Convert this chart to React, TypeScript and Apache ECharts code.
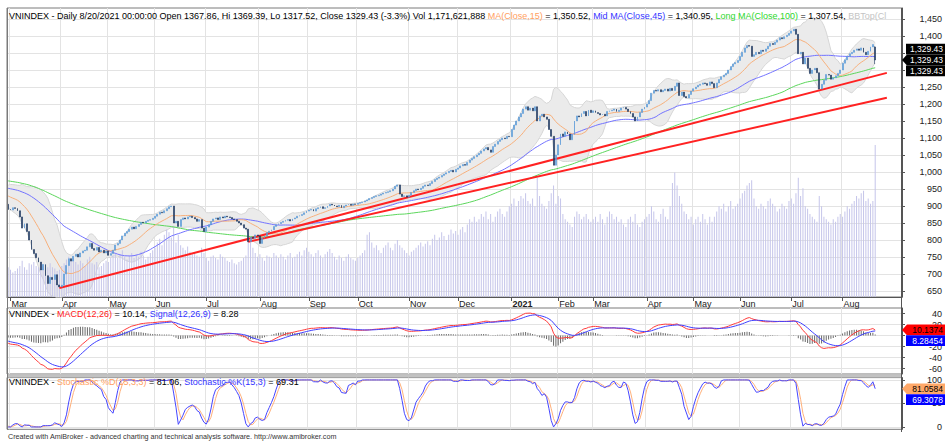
import React, { useEffect, useRef } from "react";
import * as echarts from "echarts";

const FONT = '"Liberation Sans", Arial, Helvetica, sans-serif';

// Closes before the visible window (Oct 2019 - 27 Feb 2020), estimated from where the
// moving averages start; they are not drawn, only used to warm up the indicators.
const warmupCloses = [
  1002, 1004, 1001, 999, 1000, 998, 995, 993, 990, 992, 995, 1000, 1003, 1005, 1008, 1010, 1012, 1015, 1013, 1010, 1008, 1006,
  1010, 1015, 1020, 1022, 1018, 1015, 1012, 1010, 1005, 1000, 1003, 1005, 1008, 1004, 998, 990, 985, 980, 975, 970, 968,
  965, 962, 960, 958, 955, 955, 957, 960, 962, 965, 963, 960, 958, 957, 955, 958, 960, 962, 965, 963, 961, 960,
  965, 968, 970, 972, 975, 978, 980, 982, 985, 988, 990, 992, 990, 985, 980, 915,
  920, 925, 930, 935, 938, 940, 938, 935, 937, 940, 942, 945, 943, 940, 935, 925, 918, 910, 905,
];

// Visible daily closes, 28 Feb 2020 - 31 Dec 2020
const closes2020 = [
  890,
  888, 895, 893, 886, 868, 835, 848, 825, 800, 772, 760, 748, 735, 712, 728, 695, 672, 690, 684, 698, 668, 662,
  667, 700, 725, 745, 738, 752, 758, 750, 762, 768, 770, 780, 790, 775, 770, 778, 765, 770, 762, 768,
  755, 760, 770, 785, 790, 800, 812, 820, 825, 832, 838, 833, 840, 846, 852, 850, 855, 858, 860, 864,
  870, 876, 882, 880, 886, 892, 898, 900, 850, 855, 840, 860, 865, 862, 868, 870, 866, 862, 855, 860, 835, 825,
  838, 845, 855, 862, 865, 860, 868, 865, 870, 868, 866, 862, 860, 855, 850, 845, 835, 832, 795, 808, 805, 815, 812,
  790, 805, 812, 822, 826, 830, 840, 845, 848, 852, 855, 858, 860, 856, 862, 865, 870, 872, 875, 880, 885,
  888, 890, 885, 892, 895, 898, 893, 895, 900, 905, 903, 900, 898, 902, 895, 900, 903, 905, 902, 906, 905,
  908, 910, 912, 915, 918, 922, 925, 928, 930, 932, 935, 938, 940, 942, 945, 950, 958, 962, 935, 928, 930, 926,
  932, 940, 945, 950, 948, 952, 958, 962, 960, 966, 972, 978, 982, 985, 990, 994, 998, 1002, 1005, 1000, 1008,
  1012, 1018, 1022, 1020, 1028, 1035, 1040, 1045, 1050, 1055, 1062, 1068, 1072, 1065, 1058, 1075, 1082, 1090, 1095, 1100, 1098, 1105, 1104,
];

// Visible daily closes, 4 Jan 2021 - 20 Aug 2021
const closes2021 = [
  1125, 1138, 1150, 1162, 1172, 1185, 1192, 1182, 1188, 1180, 1192, 1150, 1165, 1170, 1162, 1155, 1125, 1105, 1020, 1050,
  1080, 1112, 1105, 1118, 1112, 1095, 1110, 1150, 1165, 1162, 1172, 1178, 1165, 1182, 1175,
  1180, 1175, 1172, 1168, 1170, 1165, 1178, 1180, 1182, 1185, 1178, 1182, 1188, 1190, 1185, 1178, 1172, 1162, 1150, 1162, 1175, 1185, 1191,
  1200, 1210, 1232, 1240, 1238, 1242, 1236, 1240, 1244, 1238, 1246, 1240, 1252, 1262, 1225, 1235, 1222, 1218, 1228, 1238,
  1245, 1250, 1255, 1258, 1262, 1260, 1255, 1265, 1260, 1248, 1262, 1272, 1280, 1285, 1290, 1300, 1310, 1318, 1322, 1328,
  1340, 1352, 1365, 1372, 1370, 1340, 1345, 1352, 1348, 1358, 1355, 1362, 1370, 1378, 1375, 1382, 1388, 1395, 1392, 1398, 1402, 1408,
  1415, 1420, 1405, 1348, 1352, 1318, 1335, 1305, 1290, 1300, 1305, 1292, 1244, 1258, 1270, 1287, 1285, 1273, 1277, 1283, 1290, 1300,
  1320, 1330, 1340, 1348, 1352, 1358, 1362, 1358, 1365, 1352, 1345, 1355, 1368, 1375, 1329.43,
];

// Daily volume, millions of shares
const volume2020 = [
  230,
  210, 190, 200, 220, 240, 280, 230, 210, 260, 250, 270, 240, 230, 260, 250, 210, 230, 260, 230, 220, 200, 210,
  240, 260, 290, 310, 280, 300, 270, 250, 280, 260, 240, 290, 310, 260, 250, 270, 230, 240, 260, 280,
  270, 300, 320, 340, 300, 330, 360, 310, 290, 320, 340, 300, 330, 310, 350, 320, 290, 310, 340, 360,
  380, 420, 450, 400, 480, 520, 500, 460, 550, 420, 480, 400, 380, 360, 390, 350, 330, 340, 320, 310, 380, 340,
  300, 280, 310, 320, 300, 290, 330, 310, 300, 280, 270, 290, 260, 250, 270, 280, 300, 320, 480, 420, 380, 340, 310,
  330, 300, 280, 320, 310, 300, 340, 320, 300, 330, 310, 290, 320, 340, 300, 310, 330, 350, 320, 360, 380,
  350, 330, 310, 340, 360, 320, 300, 330, 350, 370, 340, 310, 290, 320, 300, 280, 310, 330, 300, 290, 280,
  300, 320, 340, 360, 480, 500, 420, 380, 400, 360, 340, 380, 400, 420, 380, 360, 410, 440, 400, 380, 360, 340,
  320, 350, 360, 380, 400, 420, 390, 410, 430, 400, 450, 480, 440, 460, 500, 470, 440, 480, 520, 490, 510,
  480, 520, 540, 500, 560, 600, 580, 620, 580, 600, 640, 620, 660, 600, 640, 580, 620, 660, 680, 640, 620, 660, 700,
];
const volume2021 = [
  720, 760, 700, 740, 780, 760, 800, 740, 720, 760, 700, 920, 780, 720, 700, 680, 740, 800, 860, 720,
  780, 760, 640, 600, 580, 560, 540, 620, 660, 640, 600, 620, 640, 600, 580,
  600, 620, 580, 640, 600, 560, 620, 660, 640, 600, 620, 580, 600, 560, 540, 600, 620, 580, 640, 560, 540, 580, 600,
  620, 640, 700, 660, 600, 580, 640, 680, 620, 600, 700, 880, 960, 860, 780, 720, 660, 640, 600, 620,
  560, 600, 620, 580, 640, 600, 560, 620, 580, 620, 660, 700, 680, 720, 660, 700, 740, 680, 700, 720,
  760, 800, 820, 860, 880, 900, 760, 700, 680, 720, 700, 680, 740, 760, 720, 700, 660, 680, 720, 700, 680, 740,
  760, 720, 800, 920, 780, 840, 700, 680, 640, 620, 600, 580, 780, 700, 620, 600, 580, 560, 600, 580, 620, 640,
  620, 660, 700, 680, 720, 740, 780, 760, 800, 820, 740, 760, 720, 740, 1172,
];

const lastBar = { open: 1367.86, high: 1369.39, low: 1317.52, close: 1329.43 };

const holidays = [
  "2020-04-02", "2020-04-30", "2020-05-01", "2020-09-02", "2021-01-01", "2021-02-10", "2021-02-11",
  "2021-02-12", "2021-02-15", "2021-02-16", "2021-04-21", "2021-04-30", "2021-05-03",
];
const firstDay = "2020-02-28";
const lastDay = "2021-08-20";
const blankSlots = 11;
const monthNames = ["Jan", "Feb", "Mar", "Apr", "May", "Jun", "Jul", "Aug", "Sep", "Oct", "Nov", "Dec"];

const priceTicks = [650, 700, 750, 800, 850, 900, 950, 1000, 1050, 1100, 1150, 1200, 1250, 1300, 1350, 1400, 1450];
const priceLabels = [650, 700, 750, 800, 850, 900, 950, 1000, 1050, 1100, 1150, 1200, 1250, 1400, 1450];
const macdTicks = [-60, -40, -20, 0, 20, 40];
const macdLabels = [-60, -40, -20, 20, 40];
const stochTicks = [0, 50, 100];
const stochLabels = [0, 50, 100];

const upperTrend: [string, number][] = [["2020-03-31", 659], ["2021-08-27", 1291.6]];
const lowerTrend: [string, number][] = [["2020-07-27", 795], ["2021-08-27", 1218.4]];

const priceTagValues = [1329.43, 1329.43, 1329.43];
const macdTagValues = [10.1374, 8.28454];
const stochTagValues = [81.0584, 69.3078];

const priceTitle =
  "{k|VNINDEX - Daily 8/20/2021 00:00:00 Open 1367.86, Hi 1369.39, Lo 1317.52, Close 1329.43 (-3.3%) Vol 1,171,621,888 }" +
  "{o|MA(Close,15)}{k| = 1,350.52, }{b|Mid MA(Close,45)}{k| = 1,340.95, }{g|Long MA(Close,100)}{k| = 1,307.54, }{s|BBTop(Cl}";
const macdTitle = "{k|VNINDEX - }{r|MACD(12,26)}{k| = 10.14, }{b|Signal(12,26,9)}{k| = 8.28}";
const stochTitle = "{k|VNINDEX - }{o|Stochastic %D(15,3,3)}{k| = 81.06, }{b|Stochastic %K(15,3)}{k| = 69.31}";
const footer = "Created with AmiBroker - advanced charting and technical analysis software. http://www.amibroker.com";

function iso(d: Date) {
  return d.toISOString().slice(0, 10);
}
function tradingDays(): string[] {
  const out: string[] = [];
  const d = new Date(firstDay + "T00:00:00Z");
  const end = new Date(lastDay + "T00:00:00Z");
  while (d <= end) {
    const wd = d.getUTCDay();
    const s = iso(d);
    if (wd !== 0 && wd !== 6 && !holidays.includes(s)) out.push(s);
    d.setUTCDate(d.getUTCDate() + 1);
  }
  return out;
}
function futureDays(n: number): string[] {
  const out: string[] = [];
  const d = new Date(lastDay + "T00:00:00Z");
  while (out.length < n) {
    d.setUTCDate(d.getUTCDate() + 1);
    const wd = d.getUTCDay();
    if (wd !== 0 && wd !== 6) out.push(iso(d));
  }
  return out;
}
function sma(a: (number | null)[], n: number): (number | null)[] {
  return a.map((_, i) => {
    if (i < n - 1) return null;
    let s = 0;
    for (let j = i - n + 1; j <= i; j++) {
      const v = a[j];
      if (v == null) return null;
      s += v;
    }
    return s / n;
  });
}
function stdev(a: number[], n: number): (number | null)[] {
  return a.map((_, i) => {
    if (i < n - 1) return null;
    let s = 0;
    for (let j = i - n + 1; j <= i; j++) s += a[j];
    const m = s / n;
    let q = 0;
    for (let j = i - n + 1; j <= i; j++) q += (a[j] - m) * (a[j] - m);
    return Math.sqrt(q / n);
  });
}
function ema(a: number[], n: number): number[] {
  const k = 2 / (n + 1);
  const out: number[] = [];
  a.forEach((v, i) => out.push(i === 0 ? v : k * v + (1 - k) * out[i - 1]));
  return out;
}

export default function App() {
  const ref = useRef<HTMLDivElement>(null);

  useEffect(() => {
    if (!ref.current) return;
    const chart = echarts.init(ref.current, undefined, { renderer: "svg" });

    const dates = tradingDays();
    const slots = dates.concat(futureDays(blankSlots));
    const closes = warmupCloses.concat(closes2020, closes2021);
    const P = warmupCloses.length;
    const N = closes2020.length + closes2021.length;
    const G = closes.length;

    const highs = closes.map((c, g) => (g === 0 ? c : Math.max(c, closes[g - 1])));
    const lows = closes.map((c, g) => (g === 0 ? c : Math.min(c, closes[g - 1])));
    highs[G - 1] = lastBar.high;
    lows[G - 1] = lastBar.low;

    const candles = [] as number[][];
    for (let i = 0; i < N; i++) {
      const g = P + i;
      const o = i === N - 1 ? lastBar.open : closes[g - 1];
      candles.push([o, closes[g], lows[g], highs[g]]);
    }
    const volumes = volume2020.concat(volume2021);

    const ma15 = sma(closes, 15);
    const ma45 = sma(closes, 45);
    const ma100 = sma(closes, 100);
    const sd15 = stdev(closes, 15);
    const bbLow = ma15.map((m, i) => (m == null ? null : m - 2 * (sd15[i] as number)));
    const bbWidth = sd15.map((s) => (s == null ? null : 4 * s));

    const e12 = ema(closes, 12);
    const e26 = ema(closes, 26);
    const macd = e12.map((v, i) => v - e26[i]);
    const signal = ema(macd, 9);
    const hist = macd.map((v, i) => v - signal[i]);

    const hh: number[] = [];
    const ll: number[] = [];
    for (let g = 0; g < G; g++) {
      let h = -Infinity;
      let l = Infinity;
      for (let j = Math.max(0, g - 14); j <= g; j++) {
        h = Math.max(h, highs[j]);
        l = Math.min(l, lows[j]);
      }
      hh.push(h);
      ll.push(l);
    }
    const num = sma(closes.map((c, g) => c - ll[g]), 3);
    const den = sma(closes.map((c, g) => hh[g] - ll[g]), 3);
    const stochK = num.map((v, i) => (v == null || !den[i] ? null : (100 * v) / (den[i] as number)));
    const stochD = sma(stochK, 3);

    const vis = (a: (number | null)[]) => a.slice(P);

    const isMonthStart = (index: number) =>
      index > 0 && index < N && slots[index].slice(0, 7) !== slots[index - 1].slice(0, 7);
    const monthLabel = (v: string) => {
      const m = parseInt(v.slice(5, 7), 10);
      return m === 1 ? "{y|" + v.slice(0, 4) + "}" : monthNames[m - 1];
    };

    const gridCommon = { left: 7, right: 43, show: true, borderColor: "#7a7a7a", borderWidth: 1 };
    const splitV = { show: true, interval: (i: number) => isMonthStart(i), lineStyle: { color: "#e3e3e3", width: 1 } };
    const catAxis = (gridIndex: number, labels: boolean) => ({
      type: "category",
      gridIndex,
      data: slots,
      boundaryGap: true,
      axisLine: { show: labels, lineStyle: { color: "#555" } },
      axisTick: {
        show: labels,
        interval: (i: number) => isMonthStart(i),
        alignWithLabel: true,
        length: 4,
        lineStyle: { color: "#555" },
      },
      axisLabel: {
        show: labels,
        interval: (i: number) => isMonthStart(i),
        formatter: monthLabel,
        align: "left",
        margin: 2,
        padding: [0, 0, 0, 1],
        fontSize: 9,
        fontFamily: FONT,
        color: "#222",
        rich: { y: { fontWeight: "bold", fontSize: 9, fontFamily: FONT, color: "#222" } },
      },
      splitLine: splitV,
    });
    const valAxis = (
      gridIndex: number,
      min: number,
      max: number,
      ticks: number[],
      labels: number[],
      fmt?: (v: number) => string
    ) => ({
      type: "value",
      gridIndex,
      position: "right",
      min,
      max,
      axisLine: { show: true, lineStyle: { color: "#555" } },
      axisTick: { show: true, length: 3, customValues: ticks, lineStyle: { color: "#555" } },
      axisLabel: {
        customValues: labels,
        formatter: fmt || ((v: number) => String(v)),
        align: "right",
        margin: 40,
        fontSize: 9,
        fontFamily: FONT,
        color: "#222",
      },
      splitLine: { show: true, lineStyle: { color: "#e3e3e3", width: 1 } },
    });

    const lineS = (name: string, data: (number | null)[], color: string, x: number, y: number, z = 3) => ({
      name,
      type: "line",
      xAxisIndex: x,
      yAxisIndex: y,
      data,
      symbol: "none",
      silent: true,
      z,
      lineStyle: { color, width: 1 },
    });

    const option: any = {
      animation: false,
      backgroundColor: "#ffffff",
      grid: [
        { ...gridCommon, top: 8, height: 289 },
        { ...gridCommon, top: 308, height: 66 },
        { ...gridCommon, top: 377.6, height: 51.7 },
      ],
      xAxis: [catAxis(0, true), catAxis(1, false), catAxis(2, false)],
      yAxis: [
        valAxis(0, 632.4, 1482.4, priceTicks, priceLabels, (v: number) => v.toLocaleString("en-US")),
        { type: "value", gridIndex: 0, min: 0, max: 2230, show: false, splitLine: { show: false } },
        valAxis(1, -70, 50, macdTicks, macdLabels),
        valAxis(2, -5, 105, stochTicks, stochLabels),
      ],
      series: [
        { ...lineS("bbLow", vis(bbLow), "#d6d6d6", 0, 0, 1), stack: "bb" },
        {
          ...lineS("bbTop", vis(bbWidth), "#d6d6d6", 0, 0, 1),
          stack: "bb",
          areaStyle: { color: "#ebebeb", opacity: 1 },
        },
        {
          name: "Volume",
          type: "bar",
          xAxisIndex: 0,
          yAxisIndex: 1,
          data: volumes,
          barWidth: 1,
          silent: true,
          z: 2,
          itemStyle: { color: "#c5c5ea" },
        },
        lineS("MA100", vis(ma100), "#5cd65c", 0, 0),
        lineS("MA45", vis(ma45), "#7373ff", 0, 0),
        lineS("MA15", vis(ma15), "#f7b07c", 0, 0),
        {
          name: "VNINDEX",
          type: "candlestick",
          xAxisIndex: 0,
          yAxisIndex: 0,
          data: candles,
          barWidth: 1.4,
          z: 5,
          itemStyle: {
            color: "#5b9bd8",
            color0: "#1d3760",
            borderColor: "#5b9bd8",
            borderColor0: "#1d3760",
            borderWidth: 0.6,
          },
          markLine: {
            silent: true,
            symbol: ["none", "none"],
            label: { show: false },
            lineStyle: { color: "#ff2222", width: 2, type: "solid" },
            data: [upperTrend, lowerTrend].map((t) => [{ coord: t[0] }, { coord: t[1] }]),
          },
        },
        {
          name: "Hist",
          type: "bar",
          xAxisIndex: 1,
          yAxisIndex: 2,
          data: vis(hist),
          barWidth: 1,
          silent: true,
          itemStyle: { color: "#6a6a6a" },
        },
        lineS("MACD", vis(macd), "#ff3c3c", 1, 2),
        lineS("Signal", vis(signal), "#4040ff", 1, 2),
        lineS("%D", vis(stochD), "#ffb07a", 2, 3),
        lineS("%K", vis(stochK), "#4646ff", 2, 3),
      ],
    };
    chart.setOption(option);

    const rich = (size: number) => {
      const f = (fill: string) => ({ fill, fontSize: size, fontFamily: FONT });
      return {
        k: f("#000000"),
        o: f("#ffa060"),
        b: f("#3434ff"),
        g: f("#2ed82e"),
        s: f("#c4c4c4"),
        r: f("#ff1a1a"),
      };
    };
    const textEl = (x: number, y: number, text: string, size = 9) => ({
      type: "text",
      x,
      y,
      z: 100,
      silent: true,
      style: { text, rich: rich(size), fontSize: size, fontFamily: FONT, fill: "#000", verticalAlign: "middle" },
    });
    const axisX = 902;
    const TAG_H = 10.8;
    const tag = (yc: number, text: string, bg: string, fg: string, arrow: boolean) => {
      const h = TAG_H;
      const x1 = 945;
      const pts = arrow
        ? [[axisX, yc], [axisX + 5, yc - h / 2], [x1, yc - h / 2], [x1, yc + h / 2], [axisX + 5, yc + h / 2]]
        : [[axisX + 4, yc - h / 2], [x1, yc - h / 2], [x1, yc + h / 2], [axisX + 4, yc + h / 2]];
      return [
        { type: "polygon", z: 110, silent: true, shape: { points: pts }, style: { fill: bg } },
        {
          type: "text",
          z: 111,
          silent: true,
          x: 943,
          y: yc,
          style: { text, fill: fg, fontSize: 8.5, fontFamily: FONT, align: "right", verticalAlign: "middle" },
        },
      ];
    };
    const py = (v: number, axis: number) => chart.convertToPixel({ yAxisIndex: axis } as any, v) as number;

    const pMid = py(priceTagValues[1], 0);
    const mTop = py(macdTagValues[0], 2);
    const sTop = py(stochTagValues[0], 3);
    const fmtP = (v: number) => v.toLocaleString("en-US", { minimumFractionDigits: 2, maximumFractionDigits: 2 });

    const graphic: any[] = [
      { type: "rect", z: 90, silent: true, shape: { x: 7, y: 374.5, width: 895, height: 3 }, style: { fill: "#c2c2c2" } },
      { type: "line", z: 90, silent: true, shape: { x1: 7.5, y1: 8, x2: 7.5, y2: 429.5 }, style: { stroke: "#7a7a7a", lineWidth: 1 } },
      { type: "line", z: 90, silent: true, shape: { x1: 901.5, y1: 8, x2: 901.5, y2: 432 }, style: { stroke: "#555", lineWidth: 1 } },
      textEl(9, 16, priceTitle),
      textEl(9, 314, macdTitle),
      textEl(9, 381.5, stochTitle),
      {
        type: "text",
        x: 8,
        y: 436,
        z: 100,
        silent: true,
        style: { text: footer, fontSize: 7.2, fontFamily: FONT, fill: "#333", verticalAlign: "middle" },
      },
      ...tag(pMid - TAG_H, fmtP(priceTagValues[0]), "#000000", "#ffffff", false),
      ...tag(pMid + TAG_H, fmtP(priceTagValues[2]), "#000000", "#ffffff", false),
      ...tag(pMid, fmtP(priceTagValues[1]), "#000000", "#ffffff", true),
      ...tag(mTop, macdTagValues[0].toFixed(4), "#ff0000", "#000000", true),
      ...tag(mTop + TAG_H, macdTagValues[1].toFixed(5), "#0000ff", "#ffffff", false),
      ...tag(sTop, stochTagValues[0].toFixed(4), "#ffa868", "#000000", true),
      ...tag(sTop + TAG_H, stochTagValues[1].toFixed(4), "#0000ff", "#ffffff", false),
    ];
    chart.setOption({ graphic });

    return () => chart.dispose();
  }, []);

  return <div ref={ref} style={{ position: "absolute", left: 0, top: 0, width: 945, height: 448 }} />;
}
